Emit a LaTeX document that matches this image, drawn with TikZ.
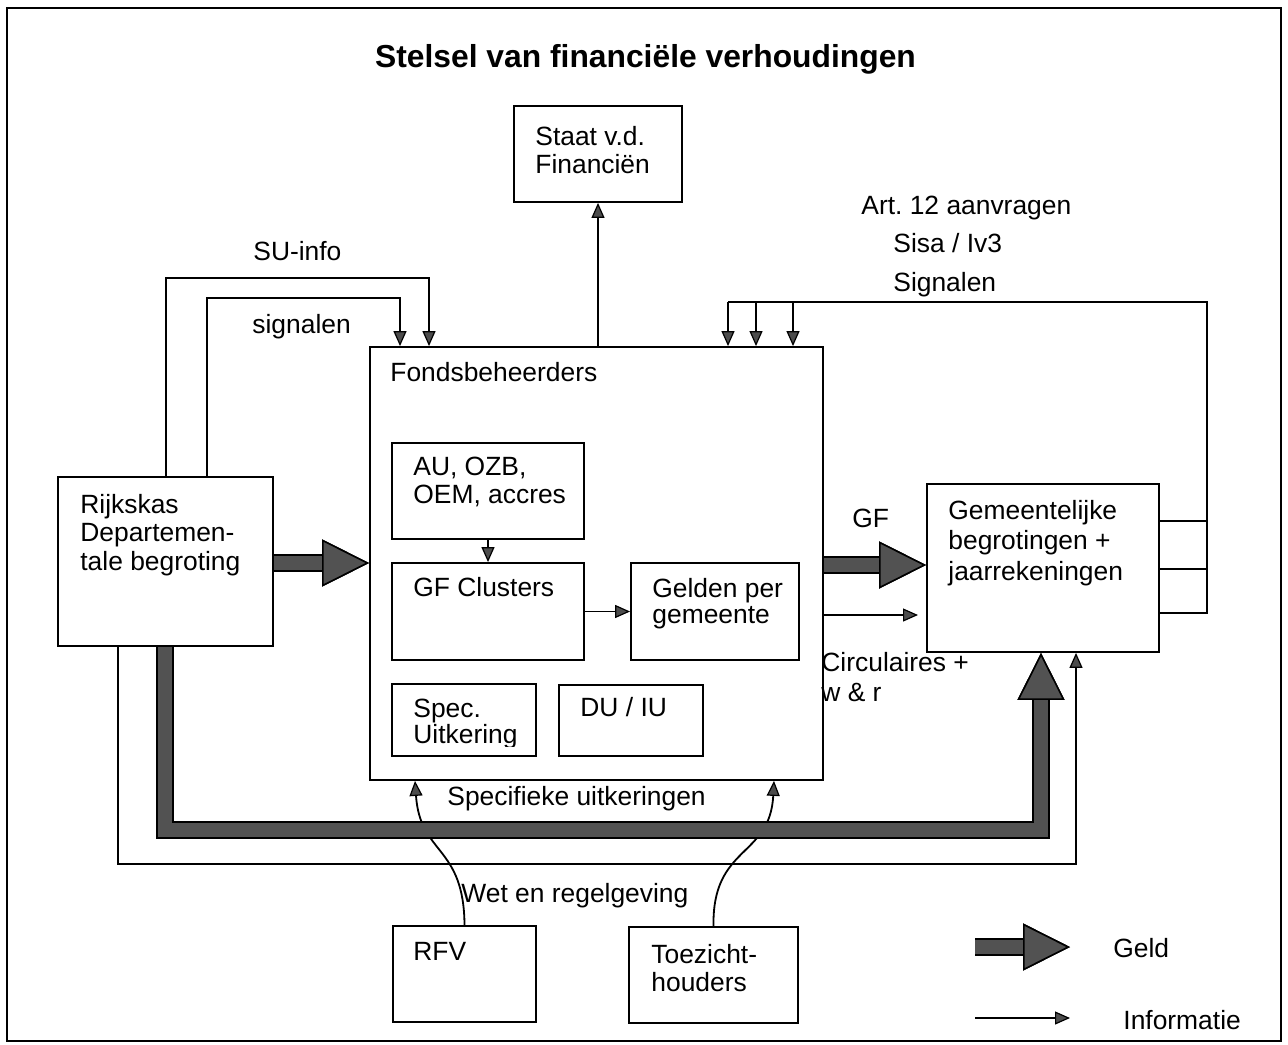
\documentclass[tikz,border=0pt]{standalone}
\usepackage{fontspec}
\setmainfont{Liberation Sans}
\usetikzlibrary{arrows.meta,fit,calc}
\newcommand{\mlt}[1]{\begin{tabular}[t]{@{}l@{}}#1\end{tabular}}
\frenchspacing
\begin{document}
\begin{tikzpicture}[x=0.5pt,y=-0.5pt,
  every node/.style={font=\fontsize{13.2}{14.25}\selectfont},
  box/.style={draw, line width=0.9pt, inner sep=0pt},
  txt/.style={anchor=base west, inner sep=0pt},
  plain/.style={line width=0.9pt},
  info/.style={line width=0.9pt, -{Triangle[length=7.5pt,width=6.5pt,line width=0.6pt,color=black,fill=black!70]}},
  geldtip/.style={-{Triangle[length=23.5pt,width=23.5pt,line width=0.8pt,color=black,fill=black!68]}},
  geldo/.style={geldtip, line width=9pt, line join=miter, black},
  geldi/.style={geldtip, line width=7pt, line join=miter, black!68},
]
\useasboundingbox (0,0) rectangle (1288,1044);
\node[box, fit={(7,8) (1281,1041)}] (frame) {};

% boxes
\node[box, fit={(514,106) (682,202)}] (staat) {};
\node[box, fit={(370,347) (823,780)}] (fonds) {};
\node[box, fit={(392,443) (584,539)}] (au) {};
\node[box, fit={(392,563) (584,660)}] (gfc) {};
\node[box, fit={(631,563) (799,660)}] (gelden) {};
\node[box, fit={(392,684) (536,756)}] (spec) {};
\node[box, fit={(559,685) (703,756)}] (du) {};
\node[box, fit={(58,477) (273,646)}] (rijks) {};
\node[box, fit={(927,484) (1159,652)}] (gem) {};
\node[box, fit={(393,926) (536,1022)}] (rfv) {};
\node[box, fit={(629,927) (798,1023)}] (toez) {};

% named coordinates
\coordinate (su) at (166,278);   \coordinate (sue) at (429,278);
\coordinate (sg) at (207,298);   \coordinate (sge) at (400,298);
\coordinate (rt) at (1207,302);
\coordinate (r1) at (1207,521);  \coordinate (r2) at (1207,569);  \coordinate (r3) at (1207,613);
\coordinate (s1) at (728,302);   \coordinate (s2) at (756,302);   \coordinate (s3) at (793,302);
\coordinate (ci) at (918,615);
\coordinate (ya) at (0,563);     \coordinate (yb) at (0,565);
\coordinate (tb1) at (118,864);  \coordinate (tb2) at (1076,864);
\coordinate (kb1) at (165,830);  \coordinate (kb2) at (1041,830);
\coordinate (c1) at (415,781);   \coordinate (c2) at (774,781);
\coordinate (lg1) at (975,947);  \coordinate (lg2) at (1070,947);
\coordinate (li1) at (975,1018); \coordinate (li2) at (1070,1018);

% information connectors
\draw[info] (staat.south |- fonds.north) -- (staat.south);
\draw[info] (au.south) -- (gfc.north);
\draw[info] (gfc.east |- gelden.west) -- (gelden.west);
\draw[info] (rijks.north -| su) -- (su) -- (sue) -- (sue |- fonds.north);
\draw[info] (rijks.north -| sg) -- (sg) -- (sge) -- (sge |- fonds.north);
\draw[plain] (gem.east |- r1) -- (r1);
\draw[plain] (gem.east |- r2) -- (r2);
\draw[plain] (gem.east |- r3) -- (r3) -- (rt) -- (s1);
\draw[info] (s1) -- (s1 |- fonds.north);
\draw[info] (s2) -- (s2 |- fonds.north);
\draw[info] (s3) -- (s3 |- fonds.north);
\draw[info] (fonds.east |- ci) -- (ci);
\draw[info] (rijks.south -| tb1) -- (tb1) -- (tb2) -- (gem.south -| tb2);
\draw[info] (rfv.north) .. controls (464,845) and (420,855) .. (fonds.south -| c1);
\draw[info] (toez.north) .. controls (712,845) and (770,858) .. (fonds.south -| c2);
\draw[info] (li1) -- (li2);

% money connectors
\draw[geldo] (rijks.east |- ya) -- (fonds.west |- ya);
\draw[geldi] (rijks.east |- ya) -- (fonds.west |- ya);
\draw[geldo] (fonds.east |- yb) -- (gem.west |- yb);
\draw[geldi] (fonds.east |- yb) -- (gem.west |- yb);
\draw[geldo] (rijks.south -| kb1) -- (kb1) -- (kb2) -- (gem.south -| kb2);
\draw[geldi] (rijks.south -| kb1) -- (kb1) -- (kb2) -- (gem.south -| kb2);
\draw[geldo] (lg1) -- (lg2);
\draw[geldi] (lg1) -- (lg2);

% texts
\node[anchor=base, inner sep=0pt, font=\fontsize{15.9}{19}\bfseries\selectfont] (title) at (645.5,67) {Stelsel van financiële verhoudingen};
\node[txt] (tstaat) at (535,145) {\mlt{Staat v.d.\\Financiën}};
\node[txt] (tfonds) at (390,381) {Fondsbeheerders};
\node[txt] (tau) at (413,475) {\mlt{AU, OZB,\\OEM, accres}};
\node[txt] (tgfc) at (413,596) {GF Clusters};
\node[txt] (tgel) at (652,597) {\mlt{Gelden per\\[-1.25pt]gemeente}};
\begin{scope}
\clip (392,684) rectangle (536,746);
\node[txt] (tspec) at (413,717) {\mlt{Spec.\\[-1.25pt]Uitkering}};
\end{scope}
\node[txt] (tdu) at (580,716) {DU / IU};
\node[txt] (trijks) at (80,513) {\mlt{Rijkskas\\Departemen-\\tale begroting}};
\node[txt] (tgem) at (948,519) {\mlt{Gemeentelijke\\[1pt]begrotingen +\\[1pt]jaarrekeningen}};
\node[txt] (tgf) at (852,527) {GF};
\node[txt] (tcirc) at (821,671) {\mlt{Circulaires +\\[0.75pt]w \& r}};
\node[txt] (tsu) at (253,260) {SU-info};
\node[txt] (tsig) at (252,333) {signalen};
\node[txt] (tart) at (861,214) {Art. 12 aanvragen};
\node[txt] (tsisa) at (893,252) {Sisa / Iv3};
\node[txt] (tsign) at (893,291) {Signalen};
\node[txt] (tspecu) at (447,805) {Specifieke uitkeringen};
\node[txt] (twet) at (461,902) {Wet en regelgeving};
\node[txt] (trfv) at (413,960) {RFV};
\node[txt] (ttoez) at (651,963) {\mlt{Toezicht-\\houders}};
\node[txt] (tgeld) at (1113,957) {Geld};
\node[txt] (tinfo) at (1123,1029) {Informatie};
\end{tikzpicture}
\end{document}
